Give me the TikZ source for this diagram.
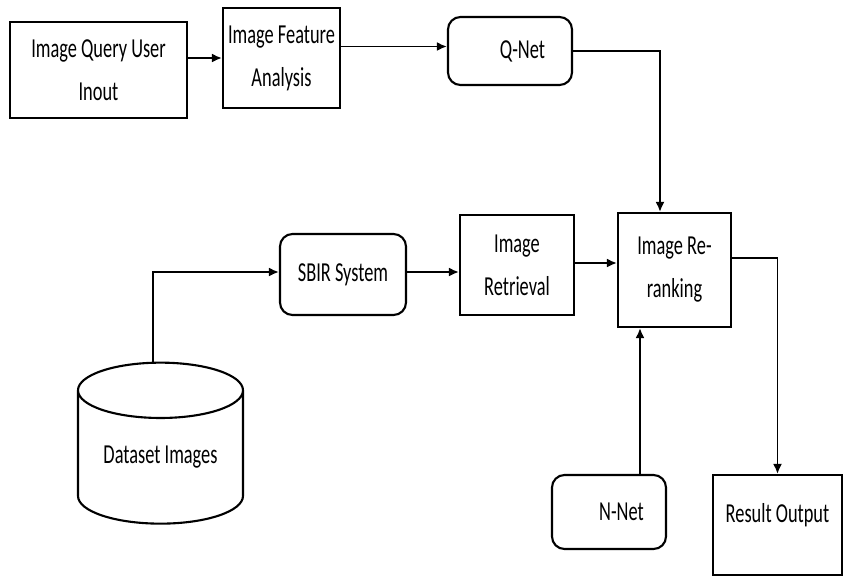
\documentclass[tikz,border=0pt]{standalone}
\usepackage{fontspec}
\setmainfont{Carlito}[FakeStretch=0.67]
\usepackage{tikz}
\usetikzlibrary{arrows.meta,positioning,shapes.geometric,calc}

\begin{document}
\begin{tikzpicture}[
    box/.style={draw, line width=1.2pt, align=center, font=\fontsize{15.6}{24.5}\selectfont, inner sep=0pt},
    rbox/.style={box, rounded corners=2.5mm},
    arr/.style={-{Latex[length=2mm, width=1.8mm]}, line width=1.1pt}
  ]
    \useasboundingbox (0,0) rectangle (16.86,-11.54);

    % Query side
    \node[box, minimum width=3.54cm, minimum height=1.92cm] (query)   at (1.97, -1.40) {Image Query User\\Inout};
    \node[box, minimum width=2.34cm, minimum height=2.00cm] (feature) at (5.63, -1.16) {Image Feature\\Analysis};
    \node[rbox, minimum width=2.48cm, minimum height=1.36cm] (qnet)   at (10.20, -1.02) {\hspace*{0.5cm}Q-Net};

    % Retrieval chain
    \node[rbox, minimum width=2.52cm, minimum height=1.62cm] (sbir)     at (6.86, -5.49) {SBIR System};
    \node[box, minimum width=2.28cm, minimum height=2.00cm] (retrieval) at (10.34, -5.30) {Image\\Retrieval};
    \node[box, minimum width=2.26cm, minimum height=2.28cm] (rerank)    at (13.49, -5.40) {Image Re-\\ranking};

    % Dataset store
    \node[draw, line width=1.2pt, cylinder, shape border rotate=90, aspect=0.485,
          minimum width=3.3cm, minimum height=3.22cm, inner sep=0pt,
          font=\fontsize{15.6}{24.5}\selectfont] (data) at (3.21, -9.15) {Dataset Images\\[0.6cm]};

    % Bottom boxes
    \node[rbox, minimum width=2.28cm, minimum height=1.48cm] (nnet) at (12.18, -10.24) {\hspace*{0.5cm}N-Net};
    \node[box, minimum width=2.58cm, minimum height=2.00cm, text depth=0.5cm] (result) at (15.55, -10.50) {Result Output};

    % Connectors
    \draw[arr] (query.east |- feature.west) -- (feature.west);
    \draw[arr] ([yshift=0.09cm]feature.east |- qnet.west) -- ([yshift=0.09cm]qnet.west);
    \draw[arr] (qnet.east) -| ([xshift=-0.29cm]rerank.north);
    \draw[arr] ([xshift=-0.15cm]data.north) |- ([yshift=0.05cm]sbir.west);
    \draw[arr] ([yshift=0.05cm]sbir.east) -- ([yshift=0.05cm]sbir.east -| retrieval.west);
    \draw[arr] ([yshift=0.04cm]retrieval.east) -- ([yshift=0.04cm]retrieval.east -| rerank.west);
    \draw[arr] ([yshift=0.24cm]rerank.east) -| (result.north);
    \draw[arr] ([xshift=0.62cm]nnet.north) -- ([xshift=0.62cm]nnet.north |- rerank.south);
  \end{tikzpicture}
\end{document}
